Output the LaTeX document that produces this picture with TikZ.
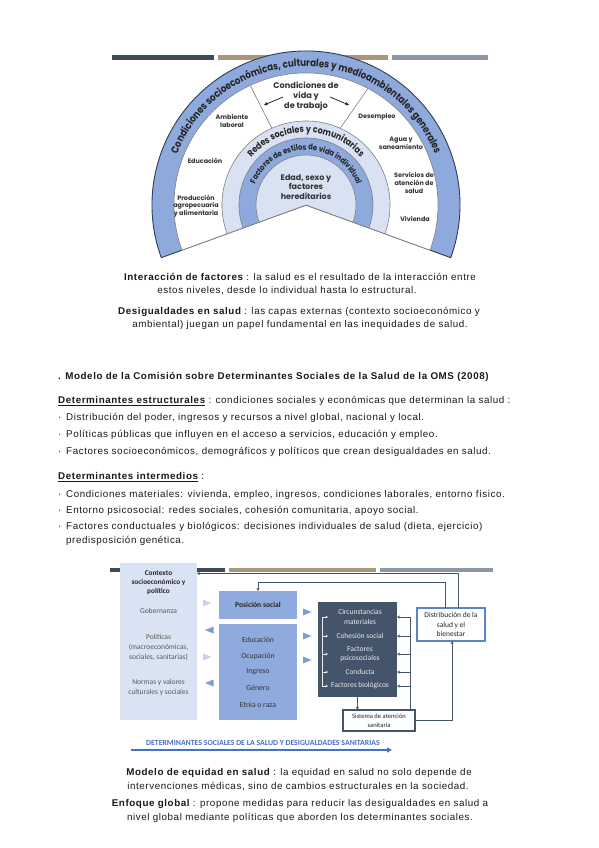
\documentclass[tikz,border=0pt]{standalone}
\usepackage{fontspec}
\setmainfont{Liberation Sans}[LetterSpace=6]
\newfontfamily\popfont{Poppins}[FakeStretch=0.86]
\newfontfamily\poplab{Poppins}
\newfontfamily\calfont{Carlito}
\usetikzlibrary{decorations.text,arrows.meta}
\definecolor{barDark}{HTML}{3E4A56}
\definecolor{barTan}{HTML}{A89878}
\definecolor{barGrey}{HTML}{8C98A6}
\definecolor{bandBlue}{HTML}{8EA9DB}
\definecolor{bandLight}{HTML}{D9E2F3}
\definecolor{edgeDark}{HTML}{2F3D57}
\definecolor{edgeGrey}{HTML}{808080}
\definecolor{ctxFill}{HTML}{DAE3F3}
\definecolor{posFill}{HTML}{8FAADC}
\definecolor{slate}{HTML}{44546A}
\definecolor{distBlue}{HTML}{5B83CC}
\definecolor{paleTri}{HTML}{C5D4EF}
\definecolor{triBlue}{HTML}{7E9DD6}
\definecolor{arrowBlue}{HTML}{4472C4}
\definecolor{txtGrey}{HTML}{595959}
\begin{document}
\begin{tikzpicture}[x=1pt,y=1pt,
  bodytxt/.style={font=\fontsize{9.8}{11}\selectfont, inner sep=0pt, text=black!90},
  lab/.style={font=\poplab\bfseries\fontsize{6.4}{7.6}\selectfont, align=center, inner sep=0pt, text=black!80},
  ctxtxt/.style={font=\calfont\fontsize{7.5}{10}\selectfont, align=center, inner sep=0pt, text=txtGrey},
  postxt/.style={font=\calfont\fontsize{7.7}{8}\selectfont, align=center, inner sep=0pt, text=black!80},
  drktxt/.style={font=\calfont\fontsize{7.5}{9.5}\selectfont, align=center, inner sep=0pt, text=white!88!slate},
  conn/.style={slate, line width=0.9pt},
  arr/.style={-{Stealth[length=3pt,width=3pt]}},
  boxshape/.style={rectangle, inner sep=0pt, outer sep=0pt},
]
\useasboundingbox[fill=white] (0,0) rectangle (599,-848);

% ---------- top decorative bars ----------
\fill[barDark] (112,-55) rectangle (214,-60);
\fill[barTan] (218,-55) rectangle (388,-60);
\fill[barGrey] (392,-55) rectangle (488,-60);

% ---------- rainbow model ----------
\begin{scope}[shift={(306,-205)}]
  \filldraw[fill=bandBlue, draw=edgeDark, line width=0.9pt] (0,0) -- (200:154) arc[start angle=200, end angle=-20, radius=154] -- cycle;
  \filldraw[fill=white, draw=edgeGrey, line width=0.6pt] (0,0) -- (200:132) arc[start angle=200, end angle=-20, radius=132] -- cycle;
  \draw[edgeGrey, line width=0.6pt] (114:84) -- (115:132);
  \draw[edgeGrey, line width=0.6pt] (66:84) -- (62:132);
  \filldraw[fill=bandLight, draw=edgeGrey, line width=0.6pt] (0,0) -- (200:84) arc[start angle=200, end angle=-20, radius=84] -- cycle;
  \filldraw[fill=bandBlue, draw=edgeGrey, line width=0.6pt] (0,0) -- (200:67) arc[start angle=200, end angle=-20, radius=67] -- cycle;
  \filldraw[fill=bandLight, draw=edgeGrey, line width=0.6pt] (0,0) -- (200:50) arc[start angle=200, end angle=-20, radius=50] -- cycle;
  \path[decorate, decoration={text along path, text color=black!85, text align=center,
    text={|\popfont\bfseries\fontsize{10.2}{10}\selectfont|Condiciones socioeconómicas, culturales y medioambientales generales}}]
    (200:138.5) arc[start angle=200, end angle=-20, radius=138.5];
  \path[decorate, decoration={text along path, text color=black!85, text align=center,
    text={|\popfont\bfseries\fontsize{9.2}{9}\selectfont|Redes sociales y comunitarias}}]
    (200:72.5) arc[start angle=200, end angle=-20, radius=72.5];
  \path[decorate, decoration={text along path, text color=black!85, text align=center,
    text={|\popfont\bfseries\fontsize{8}{8}\selectfont|Factores de estilos de vida individual}}]
    (200:55) arc[start angle=200, end angle=-20, radius=55];
\end{scope}

\node[lab, font=\poplab\bfseries\fontsize{8.2}{10}\selectfont] (cvt) at (306,-96) {Condiciones de\\vida y\\de trabajo};
\coordinate (al1) at (283,-97); \coordinate (al2) at (264,-105);
\coordinate (ar1) at (330,-97); \coordinate (ar2) at (349,-105);
\draw[black!85, line width=0.8pt, -{Stealth[length=4pt,width=3.5pt]}] (al1) -- (al2);
\draw[black!85, line width=0.8pt, -{Stealth[length=4pt,width=3.5pt]}] (ar1) -- (ar2);

\node[lab] (amb) at (232,-121) {Ambiente\\laboral};
\node[lab] (edu) at (205,-161) {Educación};
\node[lab] (prod) at (196,-206) {Producción\\agropecuaria\\y alimentaria};
\node[lab] (desem) at (377,-117) {Desempleo};
\node[lab] (agua) at (401,-143) {Agua y\\saneamiento};
\node[lab] (serv) at (414,-183) {Servicios de\\atención de\\salud};
\node[lab] (viv) at (415,-219) {Vivienda};
\node[lab, font=\poplab\bfseries\fontsize{8}{9.6}\selectfont] (edad) at (306,-187) {Edad, sexo y\\factores\\hereditarios};

% ---------- text block 1 ----------
\node[bodytxt, anchor=base] (t1) at (300,-280.5) {{\bfseries Interacción de factores} : la salud es el resultado de la interacción entre};
\node[bodytxt, anchor=base] (t2) at (287,-293.5) {estos niveles, desde lo individual hasta lo estructural.};
\node[bodytxt, anchor=base] (t3) at (299,-314.5) {{\bfseries Desigualdades en salud} : las capas externas (contexto socioeconómico y};
\node[bodytxt, anchor=base] (t4) at (300,-327.5) {ambiental) juegan un papel fundamental en las inequidades de salud.};

% ---------- section ----------
\node[bodytxt, anchor=base west] (s0) at (58,-379.5) {\bfseries . Modelo de la Comisión sobre Determinantes Sociales de la Salud de la OMS (2008)};
\node[bodytxt, anchor=base west] (s1) at (58,-403.5) {\underline{\bfseries Determinantes estructurales} : condiciones sociales y económicas que determinan la salud :};
\node[bodytxt, anchor=base west] (b1d) at (58,-420.5) {·};
\node[bodytxt, anchor=base west] (b1) at (66,-420.5) {Distribución del poder, ingresos y recursos a nivel global, nacional y local.};
\node[bodytxt, anchor=base west] (b2d) at (58,-437.5) {·};
\node[bodytxt, anchor=base west] (b2) at (66,-437.5) {Políticas públicas que influyen en el acceso a servicios, educación y empleo.};
\node[bodytxt, anchor=base west] (b3d) at (58,-454.5) {·};
\node[bodytxt, anchor=base west] (b3) at (66,-454.5) {Factores socioeconómicos, demográficos y políticos que crean desigualdades en salud.};
\node[bodytxt, anchor=base west] (s2) at (58,-479.5) {\underline{\bfseries Determinantes intermedios} :};
\node[bodytxt, anchor=base west] (c1d) at (58,-497.5) {·};
\node[bodytxt, anchor=base west] (c1) at (66,-497.5) {Condiciones materiales: vivienda, empleo, ingresos, condiciones laborales, entorno físico.};
\node[bodytxt, anchor=base west] (c2d) at (58,-513.5) {·};
\node[bodytxt, anchor=base west] (c2) at (66,-513.5) {Entorno psicosocial: redes sociales, cohesión comunitaria, apoyo social.};
\node[bodytxt, anchor=base west] (c3d) at (58,-529.5) {·};
\node[bodytxt, anchor=base west] (c3) at (66,-529.5) {Factores conductuales y biológicos: decisiones individuales de salud (dieta, ejercicio)};
\node[bodytxt, anchor=base west] (c4) at (66,-543.5) {predisposición genética.};

% ---------- bottom diagram ----------
\fill[barDark] (110,-568) rectangle (225,-572);
\fill[barTan] (229,-568) rectangle (376,-572);
\fill[barGrey] (380,-568) rectangle (493,-572);

\node[boxshape, fill=ctxFill, minimum width=77pt, minimum height=157pt] (ctx) at (158.5,-641.5) {};
\node[boxshape, fill=posFill, minimum width=78pt, minimum height=28pt, font=\calfont\bfseries\fontsize{7.6}{8}\selectfont, text=black!85] (pos) at (258,-605) {Posición social};
\node[boxshape, fill=posFill, minimum width=78pt, minimum height=96pt] (posl) at (258,-672) {};
\node[boxshape, fill=slate, minimum width=79pt, minimum height=95pt] (dark) at (357.5,-649.5) {};
\node[boxshape, fill=white, draw=distBlue, line width=1.4pt, minimum width=68pt, minimum height=33pt, font=\calfont\fontsize{7.5}{9.6}\selectfont, align=center, text=black!85] (dist) at (451,-624.5) {Distribución de la\\salud y el\\bienestar};
\node[boxshape, fill=white, draw=slate, line width=1.2pt, minimum width=72pt, minimum height=21pt, font=\calfont\fontsize{6.6}{8.5}\selectfont, align=center, text=black!85] (sis) at (379,-720.5) {Sistema de atención\\sanitaria};

% context texts
\node[ctxtxt, font=\calfont\bfseries\fontsize{7.3}{9}\selectfont, text=black!85] (ctxh) at (158.5,-583) {Contexto\\socioeconómico y\\político};
\node[ctxtxt] (gob) at (158.5,-611) {Gobernanza};
\node[ctxtxt] (pol) at (158.5,-647) {Políticas\\(macroeconómicas,\\sociales, sanitarias)};
\node[ctxtxt] (nor) at (158.5,-687.5) {Normas y valores\\culturales y sociales};

% position texts
\node[postxt] (p1) at (258,-640) {Educación};
\node[postxt] (p2) at (258,-656) {Ocupación};
\node[postxt] (p3) at (258,-672) {Ingreso};
\node[postxt] (p4) at (258,-688) {Género};
\node[postxt] (p5) at (258,-705) {Etnia o raza};

% intermediate texts
\node[drktxt] (i1) at (360,-617) {Circunstancias\\materiales};
\node[drktxt] (i2) at (360,-636) {Cohesión social};
\node[drktxt] (i3) at (360,-654) {Factores\\psicosociales};
\node[drktxt] (i4) at (360,-672) {Conducta};
\node[drktxt] (i5) at (360,-686) {Factores biológicos};

% triangles
\fill[paleTri] (203,-599.5) -- (211.5,-603) -- (203,-606.5) -- cycle;
\fill[triBlue] (213.5,-626.5) -- (205,-630) -- (213.5,-633.5) -- cycle;
\fill[paleTri] (203,-653.5) -- (211.5,-657) -- (203,-660.5) -- cycle;
\fill[triBlue] (213.5,-679.5) -- (205,-683) -- (213.5,-686.5) -- cycle;
\fill[triBlue] (303,-608.5) -- (311.5,-612) -- (303,-615.5) -- cycle;
\fill[triBlue] (303,-632.5) -- (311.5,-636) -- (303,-639.5) -- cycle;
\fill[triBlue] (303,-656.5) -- (311.5,-660) -- (303,-663.5) -- cycle;

% bracket inside dark box
\coordinate (bl) at ([xshift=4pt]dark.west);
\draw[white!88!slate, line width=0.8pt] (bl |- i1) -- (bl |- i5);
\foreach \n in {i1,i2,i3,i4,i5}{
  \draw[white!88!slate, line width=0.8pt, -{Stealth[length=2.5pt,width=2.5pt]}] (bl |- \n) -- ([xshift=6pt]bl |- \n);
}

% right side feedback from health system
\coordinate (vr) at ([xshift=-5pt]sis.north east);
\draw[conn] (vr) -- (vr |- i1);
\foreach \n in {i1,i2,i3,i4,i5}{
  \draw[conn, arr] (vr |- \n) -- (dark.east |- \n);
}
\draw[conn, arr] (dark.south) -- (dark.south |- sis.north);
\coordinate (dsb) at ([xshift=35pt]dist.south west);
\draw[conn, arr] (sis.east) -| (dsb);

% top feedback loops
\coordinate (fbA) at ([xshift=41pt]dist.north west);
\coordinate (fbAL) at (197,-573.5);
\draw[conn, arr] (fbA) |- (fbAL);
\coordinate (fbB) at ([xshift=28pt]dist.north west);
\coordinate (fbBL) at (258,-582);
\draw[conn, arr] (fbB) |- (fbBL) -- (pos.north);

% bottom label and arrow
\node[font=\calfont\bfseries\fontsize{7.8}{8}\selectfont, text=arrowBlue, inner sep=0pt] (lbl) at (263,-742.5) {DETERMINANTES SOCIALES DE LA SALUD Y DESIGUALDADES SANITARIAS};
\coordinate (ba1) at (131,-750); \coordinate (ba2) at (392,-750);
\draw[arrowBlue, line width=1.6pt, -{Triangle[length=5pt,width=5pt]}] (ba1) -- (ba2);

% ---------- text block 2 ----------
\node[bodytxt, anchor=base] (u1) at (299,-775.5) {{\bfseries Modelo de equidad en salud} : la equidad en salud no solo depende de};
\node[bodytxt, anchor=base] (u2) at (298,-789.5) {intervenciones médicas, sino de cambios estructurales en la sociedad.};
\node[bodytxt, anchor=base] (u3) at (300,-806.5) {{\bfseries Enfoque global} : propone medidas para reducir las desigualdades en salud a};
\node[bodytxt, anchor=base] (u4) at (300,-820.5) {nivel global mediante políticas que aborden los determinantes sociales.};
\end{tikzpicture}
\end{document}
